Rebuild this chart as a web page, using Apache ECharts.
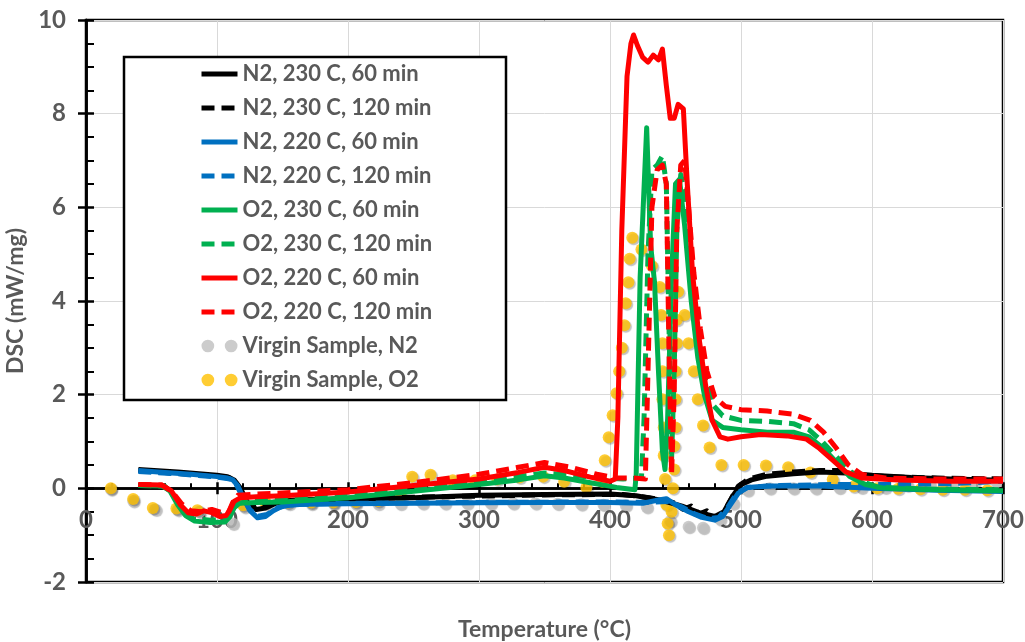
<!DOCTYPE html>
<html>
<head>
<meta charset="utf-8">
<script src="https://cdn.jsdelivr.net/npm/echarts@6/dist/echarts.min.js"></script>
<style>
  html, body { margin: 0; padding: 0; background: #fff; }
  #chart { width: 1025px; height: 642px; }
</style>
</head>
<body>
<div id="chart"></div>
<script>
// DSC curves, [temperature °C, mW/mg]
var n2_230_60 = [[40,0.4],[70,0.35],[100,0.28],[108,0.25],[113,0.18],[118,0.0],[123,-0.3],[130,-0.45],[137,-0.42],[145,-0.32],[160,-0.26],[200,-0.23],[250,-0.2],[300,-0.15],[350,-0.13],[400,-0.12],[420,-0.16],[440,-0.26],[455,-0.38],[468,-0.52],[480,-0.6],[487,-0.5],[494,-0.15],[500,0.08],[508,0.18],[520,0.26],[540,0.31],[560,0.35],[580,0.33],[600,0.28],[630,0.23],[660,0.2],[700,0.17]];
var n2_230_120 = [[40,0.38],[100,0.26],[110,0.22],[115,0.1],[120,-0.2],[127,-0.4],[134,-0.4],[142,-0.3],[160,-0.25],[250,-0.19],[350,-0.14],[410,-0.13],[430,-0.2],[448,-0.3],[456,-0.45],[462,-0.38],[468,-0.55],[474,-0.48],[480,-0.62],[486,-0.55],[492,-0.25],[498,0.05],[506,0.2],[520,0.3],[540,0.35],[560,0.38],[575,0.38],[590,0.3],[610,0.25],[650,0.22],[700,0.2]];
var n2_220_60 = [[40,0.38],[60,0.34],[80,0.3],[100,0.25],[108,0.22],[112,0.18],[116,0.05],[120,-0.2],[125,-0.47],[131,-0.63],[137,-0.6],[143,-0.48],[150,-0.38],[165,-0.34],[200,-0.33],[250,-0.32],[300,-0.31],[350,-0.3],[400,-0.3],[425,-0.32],[437,-0.25],[443,-0.22],[450,-0.35],[460,-0.5],[470,-0.62],[480,-0.68],[486,-0.6],[492,-0.35],[498,-0.1],[505,0.02],[520,0.05],[560,0.05],[600,0.0],[650,-0.04],[700,-0.07]];
var n2_220_120 = [[40,0.36],[70,0.31],[100,0.24],[110,0.2],[114,0.12],[119,-0.15],[125,-0.45],[131,-0.6],[138,-0.56],[146,-0.42],[155,-0.35],[200,-0.32],[300,-0.3],[400,-0.29],[430,-0.3],[445,-0.28],[455,-0.4],[465,-0.55],[475,-0.65],[483,-0.62],[490,-0.4],[497,-0.1],[505,0.02],[530,0.06],[570,0.08],[620,0.08],[660,0.1],[700,0.15]];
var o2_230_60 = [[40,0.06],[58,0.05],[64,-0.05],[70,-0.35],[76,-0.58],[83,-0.7],[95,-0.73],[106,-0.72],[110,-0.6],[113,-0.42],[117,-0.32],[130,-0.3],[150,-0.29],[200,-0.2],[250,-0.06],[300,0.08],[330,0.18],[350,0.27],[365,0.22],[385,0.12],[405,0.02],[419,-0.03],[420,0.3],[423,4.5],[428,7.7],[431,5.2],[434,4.4],[437,2.5],[440,0.8],[442,0.4],[444,1.5],[447,4.5],[450,6.5],[453,6.6],[457,5.6],[462,4.0],[467,2.8],[472,2.0],[478,1.45],[486,1.3],[500,1.25],[520,1.2],[540,1.2],[552,1.1],[563,0.85],[573,0.55],[583,0.25],[595,0.08],[610,0.0],[650,-0.03],[700,-0.05]];
var o2_230_120 = [[40,0.06],[60,0.05],[67,-0.15],[74,-0.48],[82,-0.65],[95,-0.68],[106,-0.66],[111,-0.5],[115,-0.33],[125,-0.27],[150,-0.25],[200,-0.14],[250,0.0],[300,0.14],[330,0.25],[350,0.33],[370,0.28],[390,0.22],[410,0.2],[424,0.22],[426,1.5],[429,5.0],[432,6.8],[436,6.9],[440,7.1],[443,6.5],[445,3.5],[447,0.6],[449,2.5],[451,5.5],[454,6.7],[458,6.2],[462,4.5],[467,3.3],[472,2.4],[478,1.8],[486,1.55],[500,1.45],[520,1.43],[540,1.38],[552,1.25],[562,1.0],[572,0.7],[582,0.4],[592,0.15],[605,0.02],[650,-0.02],[700,-0.03]];
var o2_220_60 = [[40,0.08],[58,0.07],[65,-0.05],[72,-0.35],[78,-0.52],[84,-0.55],[90,-0.48],[96,-0.52],[102,-0.6],[107,-0.58],[110,-0.45],[113,-0.28],[118,-0.2],[130,-0.18],[150,-0.16],[200,-0.08],[250,0.06],[300,0.2],[330,0.34],[350,0.45],[365,0.38],[385,0.24],[400,0.15],[404,0.2],[406,1.5],[409,5.5],[413,8.8],[416,9.5],[418,9.68],[421,9.45],[425,9.2],[429,9.1],[433,9.25],[437,9.15],[440,9.38],[443,8.6],[446,7.9],[449,7.9],[452,8.2],[456,8.1],[459,6.5],[463,4.6],[468,3.2],[473,2.2],[478,1.45],[484,1.1],[490,1.05],[500,1.1],[515,1.15],[535,1.12],[550,1.05],[560,0.85],[570,0.6],[580,0.35],[592,0.22],[620,0.18],[660,0.15],[700,0.15]];
var o2_220_120 = [[40,0.08],[58,0.07],[66,-0.08],[73,-0.33],[80,-0.48],[88,-0.5],[96,-0.45],[104,-0.52],[109,-0.5],[112,-0.3],[116,-0.15],[130,-0.12],[150,-0.1],[200,-0.03],[250,0.12],[300,0.3],[330,0.45],[350,0.55],[370,0.45],[390,0.3],[405,0.22],[418,0.22],[427,0.2],[429,2.5],[432,6.0],[436,6.8],[440,6.9],[443,6.5],[445,3.0],[447,0.3],[449,2.0],[451,5.5],[454,6.9],[457,7.0],[460,6.0],[464,4.6],[469,3.4],[474,2.5],[480,1.95],[488,1.75],[500,1.68],[520,1.65],[540,1.58],[553,1.45],[563,1.2],[573,0.85],[582,0.5],[592,0.3],[610,0.22],[650,0.2],[700,0.2]];
var virginN2 = [[19,-0.02],[36,-0.27],[53,-0.45],[70,-0.46],[87,-0.5],[112,-0.75],[121,-0.4],[138,-0.34],[155,-0.33],[172,-0.33],[189,-0.33],[206,-0.33],[223,-0.33],[240,-0.33],[257,-0.32],[274,-0.32],[291,-0.32],[309,-0.32],[326,-0.32],[343,-0.32],[360,-0.33],[378,-0.34],[395,-0.35],[412,-0.36],[428,-0.4],[446,-0.7],[460,-0.82],[471,-0.84],[484,-0.66],[494,-0.32],[505,-0.04],[522,0.0],[540,0.0],[557,0.0],[575,0.01],[592,0.02],[610,0.02],[627,0.06],[644,0.08],[661,0.1],[678,0.12],[695,0.13]];
var virginO2 = [[19,0.0],[36,-0.23],[51,-0.42],[69,-0.43],[85,-0.47],[120,-0.36],[137,-0.3],[154,-0.3],[172,-0.3],[189,-0.3],[206,-0.29],[223,-0.27],[240,-0.16],[249,0.25],[263,0.29],[280,0.17],[297,0.17],[314,0.19],[331,0.23],[349,0.25],[365,0.14],[382,0.02],[394,0.14],[396,0.6],[399,1.09],[402,1.56],[405,2.03],[407,2.5],[409,3.0],[411,3.48],[412,3.95],[414,4.4],[415,4.9],[417,5.35],[424,5.1],[432,4.75],[438,4.3],[439,3.7],[440,3.1],[440,2.5],[440,1.9],[441,1.3],[441,0.7],[442,0.2],[443,-0.35],[444,-0.75],[445,-1.0],[447,-0.5],[448,0.0],[449,0.4],[449,0.9],[450,1.3],[450,1.9],[450,2.5],[451,3.1],[451,3.6],[452,4.2],[457,3.7],[460,3.1],[464,2.5],[467,1.9],[471,1.34],[476,0.87],[485,0.5],[502,0.5],[519,0.49],[536,0.45],[553,0.34],[570,0.19],[586,0.04],[604,0.0],[620,-0.01],[637,-0.02],[654,-0.03],[671,-0.03],[688,-0.04]];

var names = ['N2, 230 C, 60 min', 'N2, 230 C, 120 min', 'N2, 220 C, 60 min', 'N2, 220 C, 120 min',
             'O2, 230 C, 60 min', 'O2, 230 C, 120 min', 'O2, 220 C, 60 min', 'O2, 220 C, 120 min',
             'Virgin Sample, N2', 'Virgin Sample, O2'];
var lineData = [n2_230_60, n2_230_120, n2_220_60, n2_220_120, o2_230_60, o2_230_120, o2_220_60, o2_220_120];
var colors = ['#000000', '#000000', '#0070C0', '#0070C0', '#00B050', '#00B050', '#FF0000', '#FF0000'];

var font = 'Lato, "Open Sans", sans-serif';
var grey = '#595959';
var dash = [13, 7];
var twoDots = 'path://M0,6a6,6 0 1,0 12,0a6,6 0 1,0 -12,0M22,6a6,6 0 1,0 12,0a6,6 0 1,0 -12,0';

var series = lineData.map(function (d, i) {
    return {
        name: names[i],
        type: 'line',
        data: d,
        symbol: 'none',
        xAxisIndex: 0,
        yAxisIndex: 0,
        lineStyle: { color: colors[i], width: 5, type: i % 2 ? dash : 'solid', join: 'round' },
        itemStyle: { color: colors[i], opacity: 0 }
    };
});
[[virginN2, '#BFBFBF'], [virginO2, '#FFC000']].forEach(function (s, k) {
    series.push({
        name: names[8 + k],
        type: 'scatter',
        data: s[0],
        symbolSize: 12,
        xAxisIndex: 0,
        yAxisIndex: 0,
        itemStyle: { color: s[1], shadowColor: 'rgba(0,0,0,0.3)', shadowOffsetX: 1.5, shadowOffsetY: 1.5, shadowBlur: 1 }
    });
});

var legendData = names.map(function (n, i) {
    if (i >= 8) return { name: n, icon: twoDots };
    return {
        name: n,
        itemStyle: { opacity: 0 },
        lineStyle: { color: colors[i], width: 5, type: i % 2 ? dash : 'solid' }
    };
});

// axis line through y = 0, ticks on both sides of it
function zeroAxis(inside) {
    return {
        type: 'value', min: 0, max: 700, interval: 100, position: 'bottom',
        axisLine: { show: true, onZero: true, onZeroAxisIndex: 0, lineStyle: { color: '#000', width: 2.5 } },
        axisTick: { show: true, inside: inside, length: 6, lineStyle: { color: '#000', width: 2.5 } },
        minorTick: { show: inside, splitNumber: 5, length: 5, lineStyle: { color: '#000', width: 2 } },
        axisLabel: { show: false },
        splitLine: { show: false }
    };
}

var myChart = echarts.init(document.getElementById('chart'));
var option = {
    animation: false,
    backgroundColor: '#fff',
    grid: { left: 86, right: 22, top: 20, bottom: 60, show: true, borderColor: '#000', borderWidth: 2.5, outerBoundsMode: 'none' },
    graphic: [{
        type: 'rect', z: 3, silent: true,
        shape: { x: 124, y: 57, width: 382, height: 343 },
        style: { fill: '#fff', stroke: '#000', lineWidth: 2.5 }
    }],
    legend: {
        orient: 'vertical', left: 199, top: 62, padding: 0, z: 4,
        itemWidth: 36, itemHeight: 14, itemGap: 10,
        textStyle: { fontFamily: font, fontSize: 22, fontWeight: 'bold', color: grey, lineHeight: 24 },
        data: legendData
    },
    xAxis: [{
        type: 'value', min: 0, max: 700, interval: 100, position: 'bottom',
        name: 'Temperature (°C)', nameLocation: 'middle', nameGap: 36,
        nameTextStyle: { fontFamily: font, fontSize: 23, fontWeight: 'bold', color: grey },
        axisLine: { show: false, onZero: false },
        axisTick: { show: false },
        axisLabel: { fontFamily: font, fontSize: 24, fontWeight: 'bold', color: grey, margin: -74 },
        splitLine: { show: true, lineStyle: { color: '#d9d9d9', width: 1 } }
    }, zeroAxis(true), zeroAxis(false)],
    yAxis: [{
        type: 'value', min: -2, max: 10, interval: 2, position: 'left',
        name: 'DSC (mW/mg)', nameLocation: 'middle', nameGap: 52,
        nameTextStyle: { fontFamily: font, fontSize: 23, fontWeight: 'bold', color: grey },
        axisLine: { show: true, onZero: false, lineStyle: { color: '#000', width: 2.5 } },
        axisTick: { show: true, inside: true, length: 8, lineStyle: { color: '#000', width: 2.5 } },
        minorTick: { show: true, splitNumber: 4, length: 8, lineStyle: { color: '#000', width: 2 } },
        axisLabel: { fontFamily: font, fontSize: 24, fontWeight: 'bold', color: grey, margin: 20 },
        splitLine: { show: true, lineStyle: { color: '#d9d9d9', width: 1 } }
    }, {
        type: 'value', min: -2, max: 10, interval: 2, position: 'left', offset: 0,
        axisLine: { show: true, onZero: false, lineStyle: { color: '#000', width: 2.5 } },
        axisTick: { show: true, inside: false, length: 8, lineStyle: { color: '#000', width: 2.5 } },
        axisLabel: { show: false },
        splitLine: { show: false }
    }],
    series: series
};
myChart.setOption(option);
</script>
</body>
</html>
